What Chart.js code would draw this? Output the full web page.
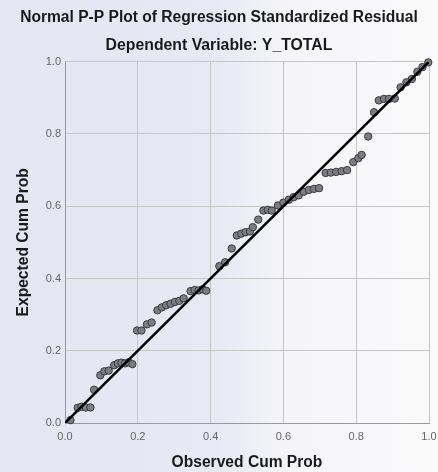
<!DOCTYPE html>
<html>
<head>
<meta charset="utf-8">
<script src="https://cdn.jsdelivr.net/npm/chart.js@4/dist/chart.umd.min.js"></script>
<style>
  html, body { margin: 0; padding: 0; background: #f0f0f8; }
  #wrap { width: 438px; height: 472px; position: relative; }
</style>
</head>
<body>
<div id="wrap"><canvas id="c" width="438" height="472"></canvas></div>
<script>
const titleText = "Normal P-P Plot of Regression Standardized Residual";
const subtitleText = "Dependent Variable: Y_TOTAL";
const xAxisTitle = "Observed Cum Prob";
const yAxisTitle = "Expected Cum Prob";
const tickValues = [0.0, 0.2, 0.4, 0.6, 0.8, 1.0];

const observedCumProb = [
  0.015, 0.035, 0.045, 0.057, 0.070, 0.080, 0.097, 0.108, 0.120, 0.135,
  0.145, 0.155, 0.165, 0.175, 0.185, 0.198, 0.210, 0.225, 0.238, 0.254,
  0.266, 0.278, 0.290, 0.302, 0.314, 0.326, 0.345, 0.356, 0.367, 0.378,
  0.388, 0.424, 0.440, 0.458, 0.472, 0.484, 0.496, 0.508, 0.516, 0.531,
  0.545, 0.557, 0.568, 0.585, 0.600, 0.615, 0.628, 0.642, 0.656, 0.670,
  0.684, 0.698, 0.716, 0.730, 0.745, 0.760, 0.775, 0.792, 0.806, 0.815,
  0.833, 0.849, 0.862, 0.876, 0.890, 0.906, 0.922, 0.938, 0.953, 0.968,
  0.982, 0.998
];
const expectedCumProb = [
  0.008, 0.042, 0.045, 0.043, 0.043, 0.092, 0.132, 0.143, 0.145, 0.160,
  0.165, 0.167, 0.165, 0.168, 0.163, 0.256, 0.256, 0.273, 0.278, 0.312,
  0.320, 0.326, 0.330, 0.335, 0.338, 0.345, 0.365, 0.368, 0.367, 0.370,
  0.366, 0.434, 0.445, 0.483, 0.519, 0.524, 0.528, 0.530, 0.542, 0.563,
  0.588, 0.590, 0.588, 0.602, 0.610, 0.618, 0.625, 0.630, 0.640, 0.645,
  0.648, 0.650, 0.692, 0.693, 0.695, 0.697, 0.700, 0.722, 0.733, 0.742,
  0.793, 0.860, 0.893, 0.897, 0.897, 0.898, 0.929, 0.943, 0.952, 0.972,
  0.985, 0.998
];
const refLineX = [0, 1];
const refLineY = [0, 1];

const points = observedCumProb.map((x, i) => ({ x: x, y: expectedCumProb[i] }));
const refLine = refLineX.map((x, i) => ({ x: x, y: refLineY[i] }));

const FONT = "'Liberation Sans', Arial, sans-serif";

const bgPlugin = {
  id: 'bg',
  beforeDraw(chart) {
    const ctx = chart.ctx;
    const w = chart.width, h = chart.height;
    const g = ctx.createLinearGradient(0, 0, w, 0);
    g.addColorStop(0, '#e5e5f3');
    g.addColorStop(0.5, '#e9e9f5');
    g.addColorStop(0.66, '#f5f5f9');
    g.addColorStop(1, '#fafafb');
    ctx.save();
    ctx.fillStyle = g;
    ctx.fillRect(0, 0, w, h);
    ctx.restore();
  }
};

new Chart(document.getElementById('c'), {
  type: 'scatter',
  data: {
    datasets: [
      {
        type: 'line',
        data: refLine,
        borderColor: '#000000',
        borderWidth: 2.5,
        pointRadius: 0,
        fill: false,
        order: 0
      },
      {
        type: 'scatter',
        data: points,
        backgroundColor: '#7c7c84',
        borderColor: '#3a3a40',
        borderWidth: 1,
        pointRadius: 3.7,
        order: 1,
        clip: false
      }
    ]
  },
  plugins: [bgPlugin],
  options: {
    responsive: false,
    animation: false,
    layout: { padding: { left: 0, right: 0, top: 0, bottom: 0 } },
    plugins: {
      legend: { display: false },
      tooltip: { enabled: false },
      title: {
        display: true,
        text: titleText,
        color: '#1a1a1a',
        font: { family: FONT, size: 15.6, weight: 'bold' },
        padding: { top: 8.5, bottom: 4 }
      },
      subtitle: {
        display: true,
        text: subtitleText,
        color: '#1a1a1a',
        font: { family: FONT, size: 15.8, weight: 'bold' },
        padding: { top: 5, bottom: 6.5 }
      }
    },
    scales: {
      x: {
        type: 'linear',
        min: 0, max: 1,
        afterBuildTicks(scale) { scale.ticks = tickValues.map(v => ({ value: v })); },
        afterFit(scale) { scale.height = 49; scale.paddingRight = 9; scale.paddingLeft = 0; },
        ticks: {
          callback: v => Number(v).toFixed(1),
          color: '#666666',
          font: { family: FONT, size: 11 },
          padding: 7,
          maxRotation: 0
        },
        grid: { color: '#c6c6c6', lineWidth: 1, drawTicks: false },
        border: { color: '#9a9a9a', width: 1 },
        title: {
          display: true,
          text: xAxisTitle,
          color: '#1a1a1a',
          font: { family: FONT, size: 15.6, weight: 'bold' },
          padding: { top: 0, bottom: 0 }
        }
      },
      y: {
        type: 'linear',
        min: 0, max: 1,
        afterBuildTicks(scale) { scale.ticks = tickValues.map(v => ({ value: v })); },
        afterFit(scale) { scale.width = 65; },
        ticks: {
          callback: v => Number(v).toFixed(1),
          color: '#666666',
          font: { family: FONT, size: 11 },
          padding: 4
        },
        grid: { color: '#c6c6c6', lineWidth: 1, drawTicks: false },
        border: { color: '#9a9a9a', width: 1 },
        title: {
          display: true,
          text: yAxisTitle,
          color: '#1a1a1a',
          font: { family: FONT, size: 15.6, weight: 'bold' },
          padding: { top: 14, bottom: 0 }
        }
      }
    }
  }
});
</script>
</body>
</html>
